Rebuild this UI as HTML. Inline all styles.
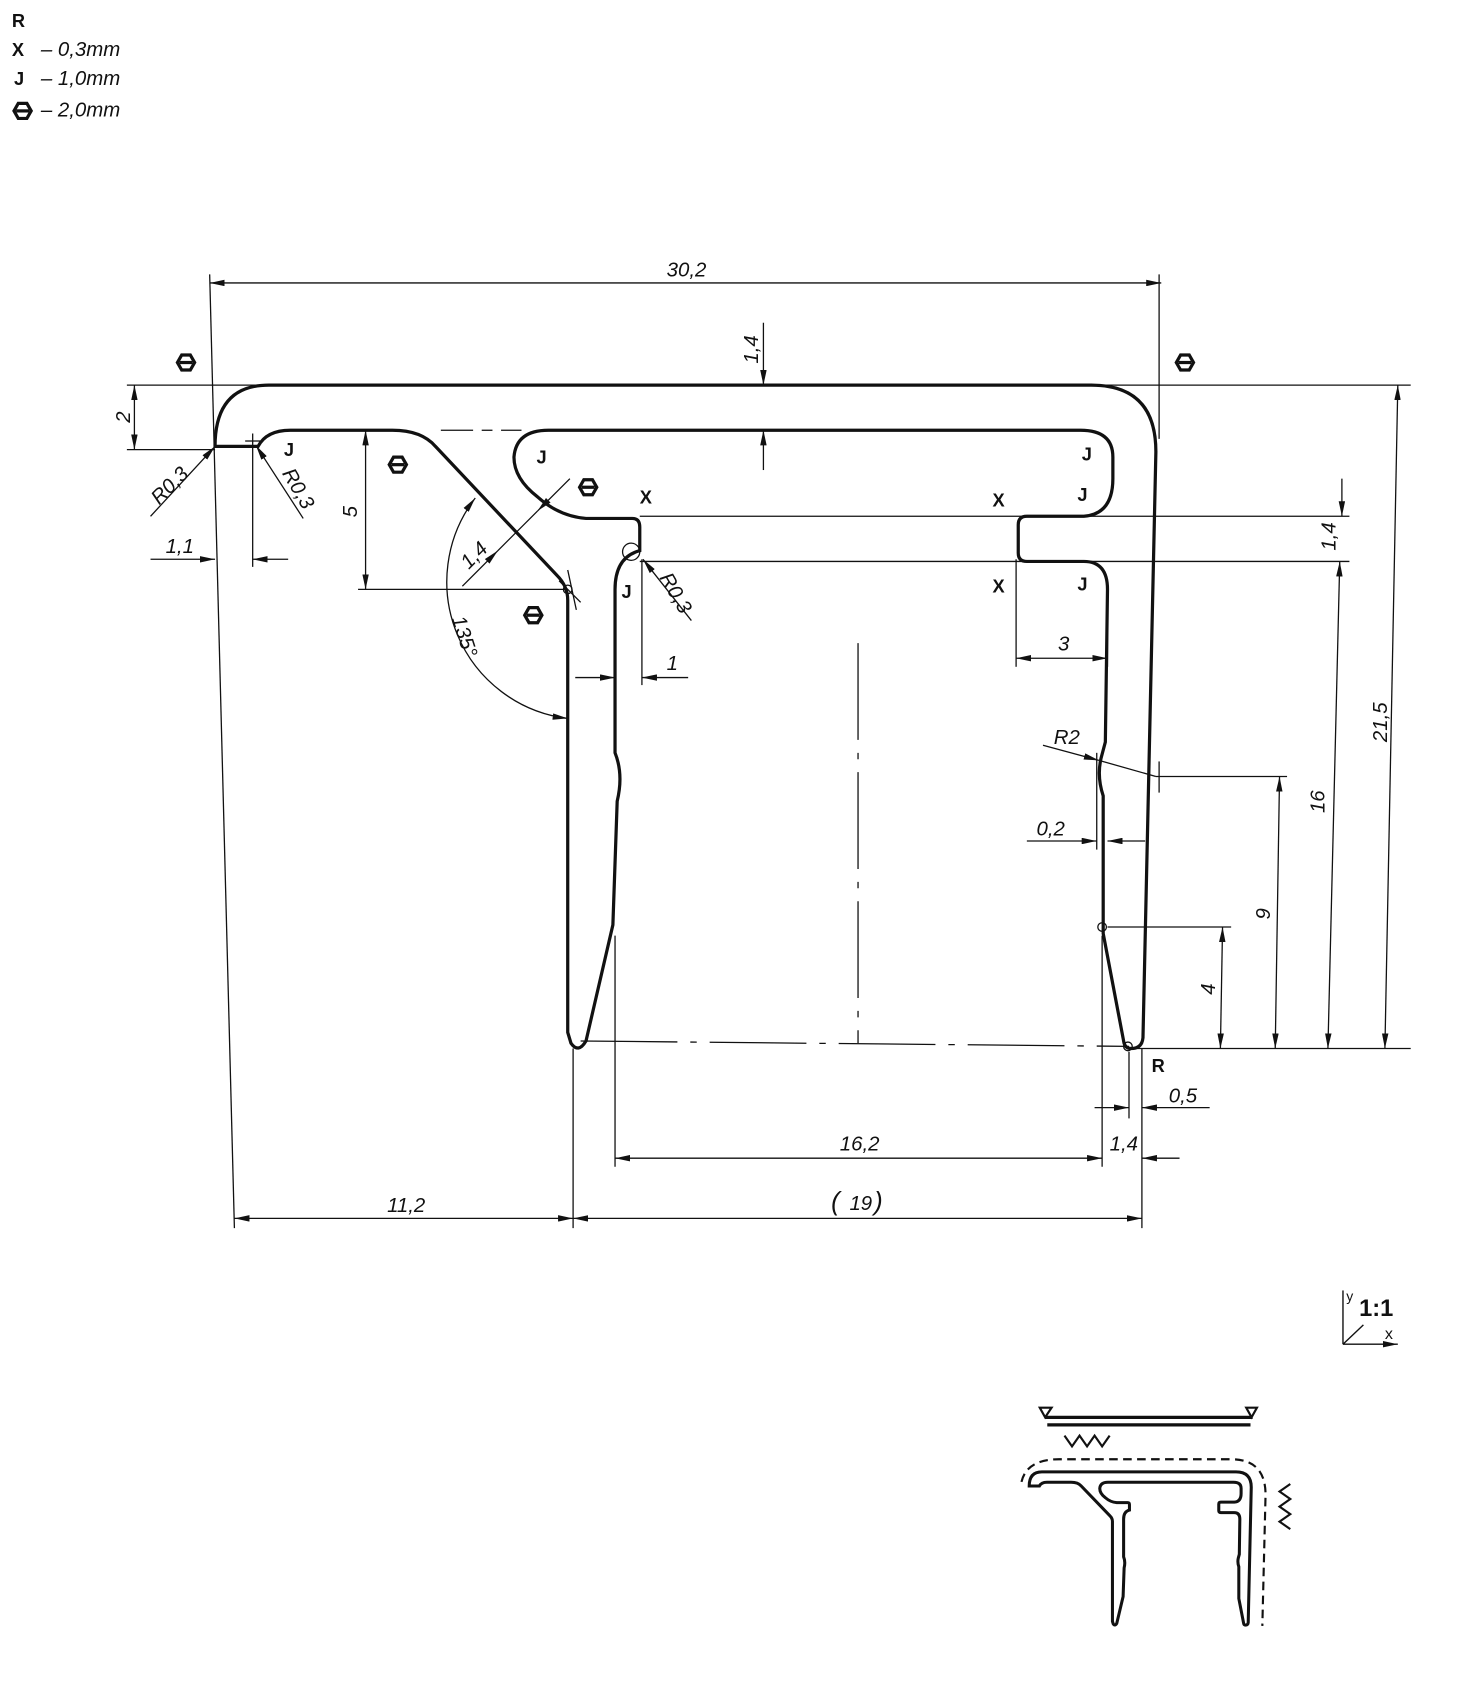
<!DOCTYPE html>
<html><head><meta charset="utf-8"><style>
html,body{margin:0;padding:0;background:#fff}
svg{display:block}
.d{font-family:"Liberation Sans",sans-serif;font-style:italic;font-size:19px;fill:#111}
.b{font-family:"Liberation Sans",sans-serif;font-weight:bold;font-size:17px;fill:#111}
</style></head><body>
<svg width="1472" height="1682" viewBox="0 0 1369 1564" xmlns="http://www.w3.org/2000/svg">
<defs>
<marker id="a" viewBox="0 0 14 6" refX="14" refY="3" markerWidth="14" markerHeight="6" markerUnits="userSpaceOnUse" orient="auto-start-reverse"><path d="M0 0 L14 3 L0 6 Z" fill="#111"/></marker>
<g id="hex"><polygon points="-8,0 -4,-7 4,-7 8,0 4,7 -4,7" fill="#fff" stroke="#111" stroke-width="3"/><line x1="-6" y1="0" x2="6" y2="0" stroke="#111" stroke-width="3"/></g>
<path id="prof" d="M200 415 Q200 358 250 358 L1015 358 Q1075 358 1075 420 L1063 965 Q1062 975 1052 975 Q1046 975 1045 968 L1026 868 L1026 740 Q1020 722 1024 705 L1028 690 L1030 548 Q1030 522 1008 522 L955 522 Q947 522 947 514 L947 488 Q947 480 955 480 L1008 480 Q1035 478 1035 445 L1035 425 Q1035 400 1005 400 L510 400 Q480 400 478 425 Q478 445 500 462 Q520 480 545 482 L588 482 Q595 482 595 490 L595 512 Q572 518 572 548 L572 700 Q580 720 574 745 L570 860 L545 968 Q538 980 531 970 L528 960 L528 558 Q528 545 518 535 L405 415 Q392 400 365 400 L270 400 Q248 400 240 415 Z"/>
</defs>
<!-- legend -->
<text class="b" x="11" y="25">R</text>
<text class="b" x="11" y="52">X</text><text class="d" x="38" y="52">–  0,3mm</text>
<text class="b" x="13" y="79">J</text><text class="d" x="38" y="79">–  1,0mm</text>
<use href="#hex" x="21" y="103"/><text class="d" x="38" y="108">–  2,0mm</text>

<g fill="none" stroke="#111" stroke-width="1.2">
<!-- extension lines -->
<line x1="195" y1="255" x2="218" y2="1142"/>
<line x1="1078" y1="255" x2="1078" y2="408"/>
<line x1="118" y1="358" x2="1312" y2="358"/>
<line x1="118" y1="418" x2="200" y2="418"/>
<line x1="235" y1="403" x2="235" y2="527"/>
<line x1="228" y1="410" x2="242" y2="410"/>
<line x1="333" y1="548" x2="528" y2="548"/>
<line x1="410" y1="400" x2="440" y2="400"/><line x1="448" y1="400" x2="458" y2="400"/><line x1="466" y1="400" x2="485" y2="400"/>
<line x1="597" y1="520" x2="597" y2="637"/>
<line x1="595" y1="480" x2="1255" y2="480"/>
<line x1="595" y1="522" x2="1255" y2="522"/>
<line x1="945" y1="520" x2="945" y2="620"/>
<line x1="1030" y1="545" x2="1030" y2="620"/>
<line x1="1075" y1="722" x2="1197" y2="722"/>
<line x1="1078" y1="708" x2="1078" y2="737"/>
<line x1="1030" y1="862" x2="1145" y2="862"/>
<line x1="1050" y1="975" x2="1312" y2="975"/>
<line x1="572" y1="870" x2="572" y2="1085"/>
<line x1="1025" y1="870" x2="1025" y2="1085"/>
<line x1="1020" y1="700" x2="1020" y2="790"/>
<line x1="1062" y1="975" x2="1062" y2="1142"/>
<line x1="1050" y1="978" x2="1050" y2="1040"/>
<line x1="533" y1="975" x2="533" y2="1142"/>
<line x1="528" y1="530" x2="536" y2="567"/>
<line x1="520" y1="540" x2="540" y2="560"/>
<!-- center lines -->
<line x1="798" y1="598" x2="798" y2="970" stroke-dasharray="90 12 6 12"/>
<line x1="540" y1="968" x2="1050" y2="973" stroke-dasharray="90 12 6 12"/>
<!-- dims -->
<line x1="195" y1="263" x2="1080" y2="263" marker-start="url(#a)" marker-end="url(#a)"/>
<line x1="710" y1="300" x2="710" y2="358" marker-end="url(#a)"/>
<line x1="710" y1="437" x2="710" y2="400" marker-end="url(#a)"/>
<line x1="125" y1="358" x2="125" y2="418" marker-start="url(#a)" marker-end="url(#a)"/>
<line x1="140" y1="480" x2="200" y2="415" marker-end="url(#a)"/>
<line x1="282" y1="482" x2="238" y2="414" marker-end="url(#a)"/>
<line x1="140" y1="520" x2="200" y2="520" marker-end="url(#a)"/>
<line x1="268" y1="520" x2="235" y2="520" marker-end="url(#a)"/>
<line x1="340" y1="400" x2="340" y2="548" marker-start="url(#a)" marker-end="url(#a)"/>
<line x1="430" y1="545" x2="463" y2="512" marker-end="url(#a)"/>
<line x1="530" y1="445" x2="500" y2="475" marker-end="url(#a)"/>
<line x1="463" y1="512" x2="500" y2="475"/>
<path d="M442 463 A128 128 0 0 0 528 668" marker-start="url(#a)" marker-end="url(#a)"/>
<line x1="643" y1="577" x2="598" y2="520" marker-end="url(#a)"/>
<line x1="535" y1="630" x2="572" y2="630" marker-end="url(#a)"/>
<line x1="640" y1="630" x2="597" y2="630" marker-end="url(#a)"/>
<line x1="1248" y1="445" x2="1248" y2="480" marker-end="url(#a)"/>
<line x1="945" y1="612" x2="1030" y2="612" marker-start="url(#a)" marker-end="url(#a)"/>
<line x1="1300" y1="358" x2="1288" y2="975" marker-start="url(#a)" marker-end="url(#a)"/>
<line x1="1246" y1="522" x2="1235" y2="975" marker-start="url(#a)" marker-end="url(#a)"/>
<line x1="1190" y1="722" x2="1186" y2="975" marker-start="url(#a)" marker-end="url(#a)"/>
<line x1="1137" y1="862" x2="1135" y2="975" marker-start="url(#a)" marker-end="url(#a)"/>
<line x1="970" y1="693" x2="1022" y2="707" marker-end="url(#a)"/>
<line x1="1022" y1="707" x2="1075" y2="722"/>
<line x1="955" y1="782" x2="1020" y2="782" marker-end="url(#a)"/>
<line x1="1065" y1="782" x2="1030" y2="782" marker-end="url(#a)"/>
<line x1="1018" y1="1030" x2="1050" y2="1030" marker-end="url(#a)"/>
<line x1="1125" y1="1030" x2="1062" y2="1030" marker-end="url(#a)"/>
<line x1="572" y1="1077" x2="1025" y2="1077" marker-start="url(#a)" marker-end="url(#a)"/>
<line x1="1097" y1="1077" x2="1062" y2="1077" marker-end="url(#a)"/>
<line x1="218" y1="1133" x2="533" y2="1133" marker-start="url(#a)" marker-end="url(#a)"/>
<line x1="533" y1="1133" x2="1062" y2="1133" marker-start="url(#a)" marker-end="url(#a)"/>
<circle cx="587" cy="513" r="8"/>
<circle cx="528" cy="548" r="4"/>
<circle cx="1025" cy="862" r="4"/>
<circle cx="1049" cy="973" r="4"/>
</g>
<use href="#prof" fill="none" stroke="#111" stroke-width="3"/>
<!-- dim text -->
<text class="d" x="620" y="257">30,2</text>
<text class="d" transform="translate(705,338) rotate(-90)">1,4</text>
<text class="d" transform="translate(121,393) rotate(-90)">2</text>
<text class="d" transform="translate(148,470) rotate(-45)">R0,3</text>
<text class="d" transform="translate(262,440) rotate(60)">R0,3</text>
<text class="d" x="154" y="514">1,1</text>
<text class="d" transform="translate(332,481) rotate(-90)">5</text>
<text class="d" transform="translate(436,530) rotate(-45)">1,4</text>
<text class="d" transform="translate(420,575) rotate(72)">135°</text>
<text class="d" transform="translate(613,537) rotate(60)">R0,3</text>
<text class="d" x="620" y="623">1</text>
<text class="d" transform="translate(1242,512) rotate(-90)">1,4</text>
<text class="d" x="984" y="605">3</text>
<text class="d" transform="translate(1290,690) rotate(-90)">21,5</text>
<text class="d" transform="translate(1232,756) rotate(-90)">16</text>
<text class="d" transform="translate(1181,855) rotate(-90)">9</text>
<text class="d" transform="translate(1130,925) rotate(-90)">4</text>
<text class="d" x="980" y="692">R2</text>
<text class="d" x="964" y="777">0,2</text>
<text class="d" x="1087" y="1025">0,5</text>
<text class="d" x="1032" y="1070">1,4</text>
<text class="d" x="781" y="1070">16,2</text>
<text class="d" x="360" y="1127">11,2</text>
<text class="d" x="773" y="1125" style="font-size:24px">(</text><text class="d" x="790" y="1125">19</text><text class="d" x="813" y="1125" style="font-size:24px">)</text>
<text class="b" x="1071" y="997">R</text>
<!-- J / X -->
<text class="b" x="264" y="424">J</text>
<text class="b" x="499" y="431">J</text>
<text class="b" x="1006" y="428">J</text>
<text class="b" x="1002" y="466">J</text>
<text class="b" x="578" y="556">J</text>
<text class="b" x="1002" y="549">J</text>
<text class="b" x="595" y="468">X</text>
<text class="b" x="923" y="471">X</text>
<text class="b" x="923" y="551">X</text>
<use href="#hex" x="173" y="337"/>
<use href="#hex" x="370" y="432"/>
<use href="#hex" x="547" y="453"/>
<use href="#hex" x="496" y="572"/>
<use href="#hex" x="1102" y="337"/>
<!-- 1:1 -->
<g stroke="#111" fill="none" stroke-width="1.3">
<line x1="1249" y1="1200" x2="1249" y2="1250"/>
<line x1="1249" y1="1250" x2="1300" y2="1250" marker-end="url(#a)"/>
<line x1="1249" y1="1250" x2="1268" y2="1232"/>
</g>
<text class="d" style="font-style:normal;font-size:13px" x="1252" y="1210">y</text>
<text class="b" style="font-size:22px" x="1264" y="1224">1:1</text>
<text class="d" style="font-style:normal;font-size:15px" x="1288" y="1245">x</text>
<!-- small picture -->
<g fill="none" stroke="#111" stroke-width="3">
<line x1="972" y1="1318" x2="1165" y2="1318"/>
<line x1="974" y1="1325" x2="1163" y2="1325"/>
<path d="M967 1309 L978 1309 L972 1318 Z M1159 1309 L1169 1309 L1164 1318 Z" stroke-width="2"/>
<path d="M990 1335 L997 1345 L1004 1335 L1011 1345 L1018 1335 L1025 1345 L1032 1335" stroke-width="2"/>
<path d="M1200 1380 L1190 1387 L1200 1394 L1190 1401 L1200 1408 L1190 1415 L1200 1422" stroke-width="2"/>
<path d="M950 1378 Q955 1357 985 1357 L1145 1357 Q1177 1357 1177 1390 L1174 1512" stroke-width="2" stroke-dasharray="8 5"/>
<use href="#prof" transform="translate(910,1286) scale(0.236,0.231)" vector-effect="non-scaling-stroke" stroke-width="12"/>
</g>
</svg>
</body></html>
